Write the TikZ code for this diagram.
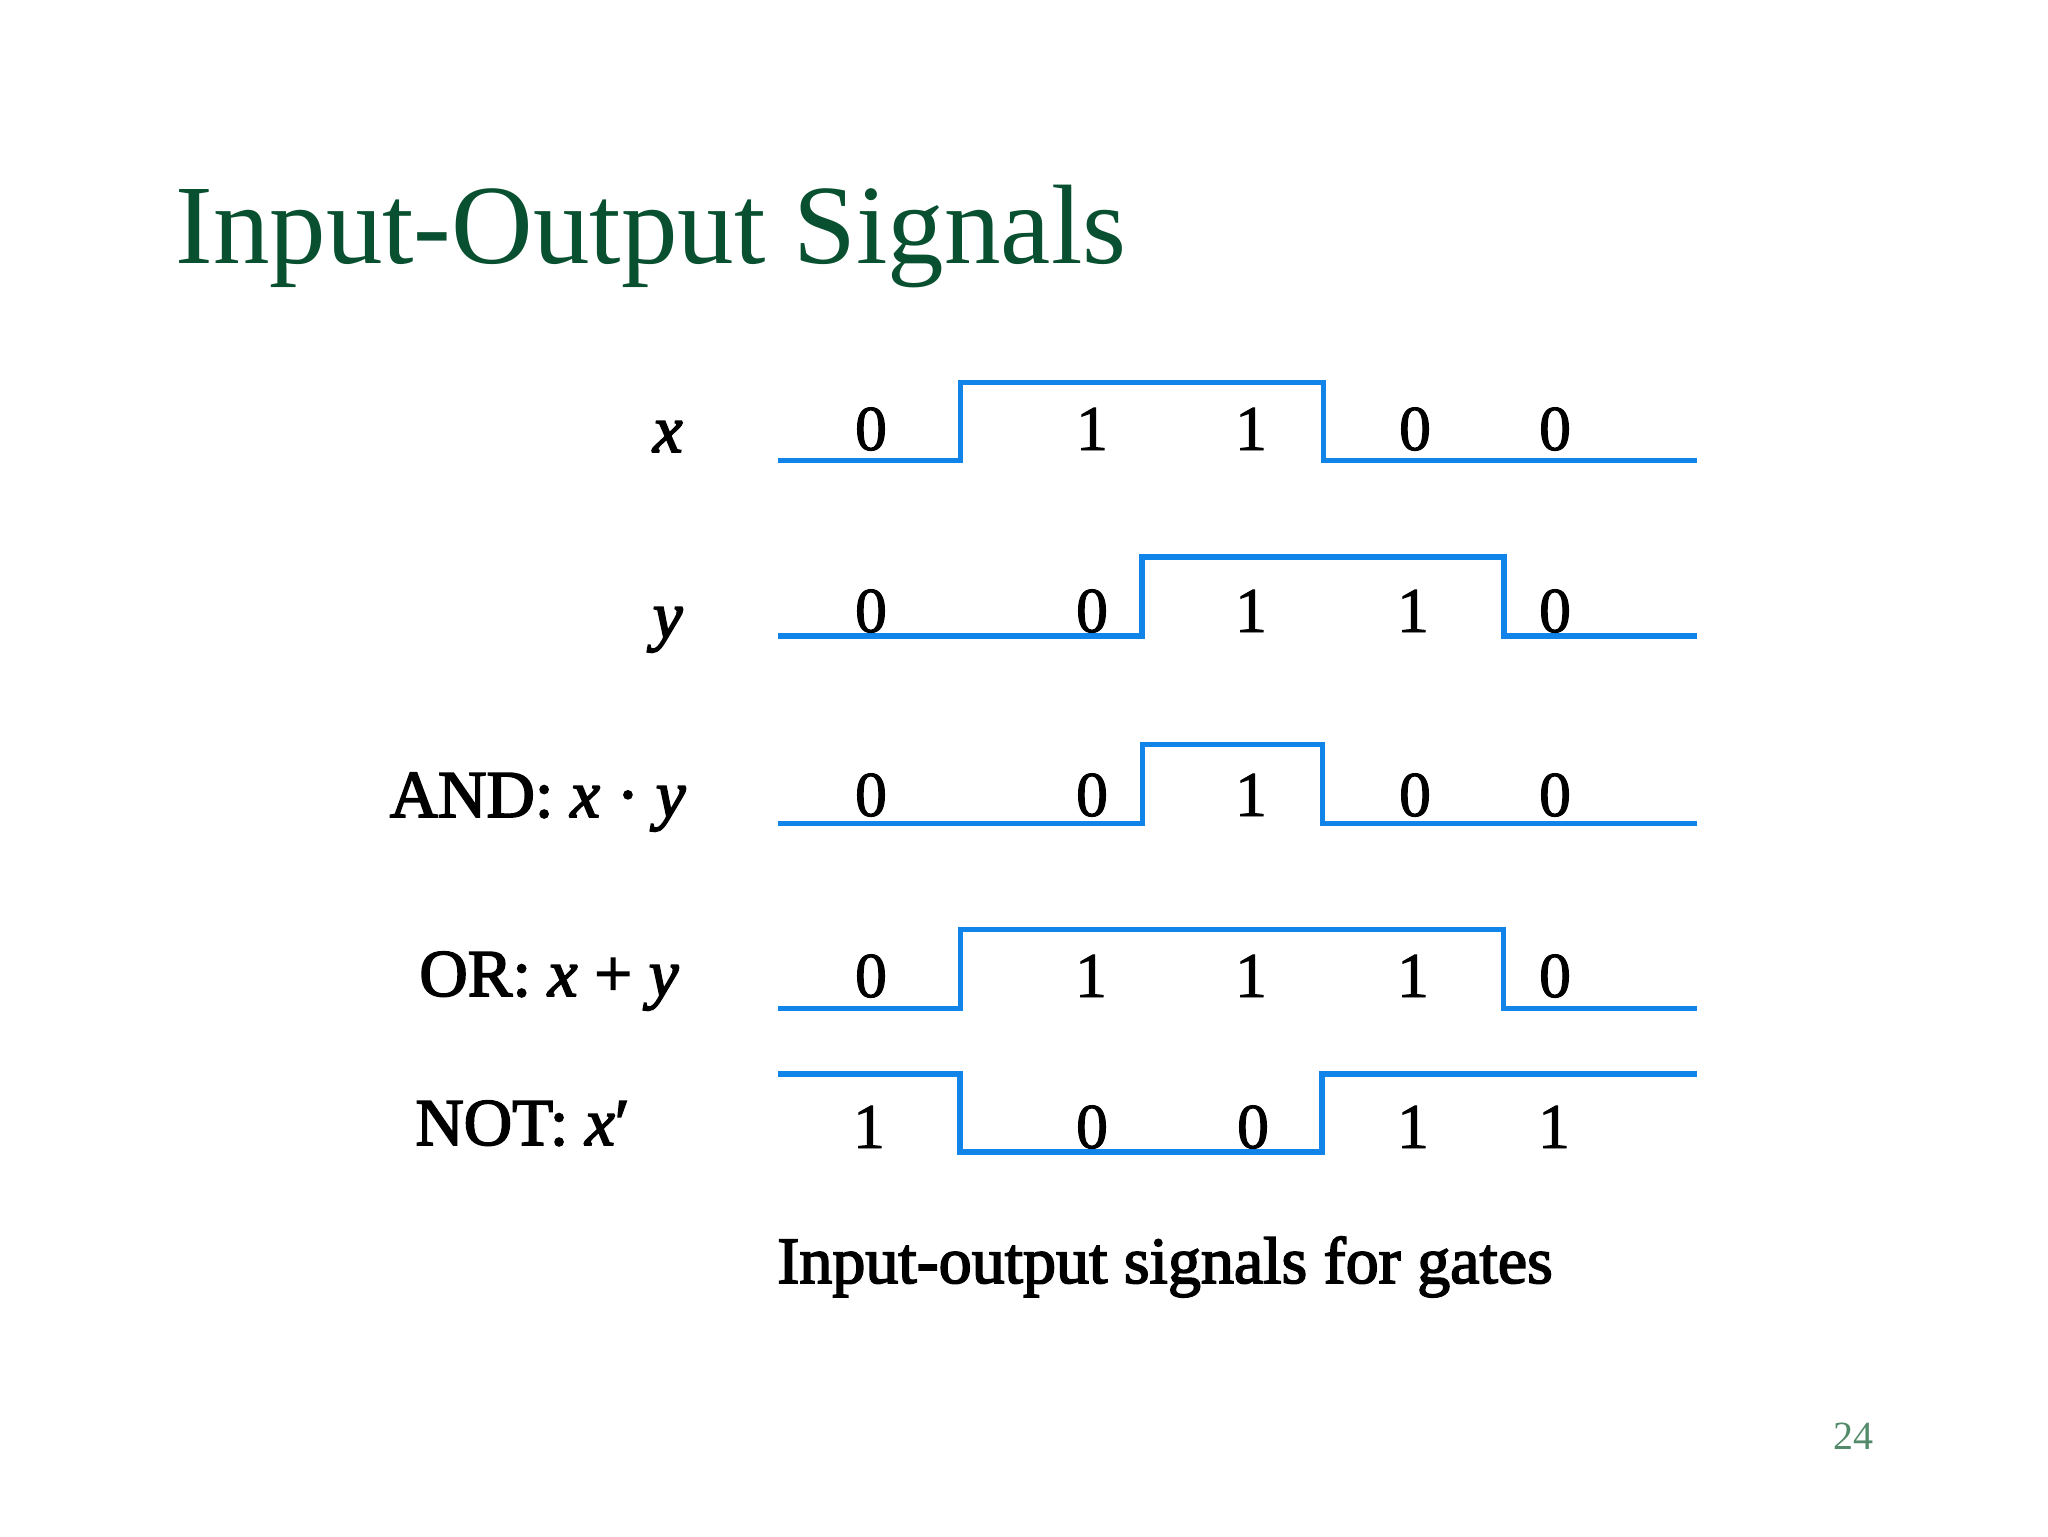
\documentclass[tikz,border=0pt]{standalone}
\usepackage{fontspec}
\setmainfont{Liberation Serif}
\newfontfamily\heavy[FakeBold=2.5]{Liberation Serif}
\newfontfamily\digitfont[FakeBold=1.5]{Liberation Serif}
\definecolor{titlegreen}{RGB}{8,80,48}
\definecolor{pagegreen}{RGB}{82,138,106}
\definecolor{sigblue}{RGB}{16,132,232}
\begin{document}
\begin{tikzpicture}[x=0.5pt,y=-0.5pt,
  wave/.style={draw=sigblue, line width=2.5pt, line join=miter},
  wavethick/.style={wave, line width=3pt},
  digit/.style={anchor=base, inner sep=0pt, font=\digitfont\fontsize{32}{36}\selectfont},
  siglabel/.style={anchor=base east, inner sep=0pt, font=\heavy\fontsize{33.5}{38}\selectfont},
  title/.style={anchor=base west, inner sep=0pt, text=titlegreen, font=\fontsize{56.5}{62}\selectfont},
  caption/.style={anchor=base west, inner sep=0pt, font=\heavy\fontsize{33}{38}\selectfont},
  pagenum/.style={anchor=base west, inner sep=0pt, text=pagegreen, font=\fontsize{20}{24}\selectfont}]
\useasboundingbox (0,0) rectangle (2048,1536);

% title
\node[title] (ttl) at (175,263) {Input-Output Signals};

% row labels
\node[siglabel] (lx) at (683,452) {\textit{x}};
\node[siglabel] (ly) at (683,638) {\textit{y}};
\node[siglabel] (land) at (686,817) {AND: \textit{x} · \textit{y}};
\node[siglabel] (lor) at (679,996) {OR: \textit{x} + \textit{y}};
\node[siglabel, anchor=base west] (lnot) at (415,1145) {NOT: \textit{x}′};

% waveforms
\draw[wave] (778,460) -- (960,460) -- (960,382) -- (1323,382) -- (1323,460) -- (1697,460);
\draw[wavethick] (778,636) -- (1142,636) -- (1142,557) -- (1504,557) -- (1504,636) -- (1697,636);
\draw[wave] (778,823) -- (1142,823) -- (1142,744) -- (1322,744) -- (1322,823) -- (1697,823);
\draw[wave] (778,1008) -- (960,1008) -- (960,929) -- (1503,929) -- (1503,1008) -- (1697,1008);
\draw[wavethick] (778,1074) -- (960,1074) -- (960,1152) -- (1322,1152) -- (1322,1074) -- (1697,1074);

% digits: x
\node[digit] (x1) at (871,450) {0};
\node[digit] (x2) at (1092,450) {1};
\node[digit] (x3) at (1251,450) {1};
\node[digit] (x4) at (1415,450) {0};
\node[digit] (x5) at (1555,450) {0};
% digits: y
\node[digit] (y1) at (871,632) {0};
\node[digit] (y2) at (1092,632) {0};
\node[digit] (y3) at (1251,632) {1};
\node[digit] (y4) at (1413,632) {1};
\node[digit] (y5) at (1555,632) {0};
% digits: AND
\node[digit] (a1) at (871,816) {0};
\node[digit] (a2) at (1092,816) {0};
\node[digit] (a3) at (1251,816) {1};
\node[digit] (a4) at (1415,816) {0};
\node[digit] (a5) at (1555,816) {0};
% digits: OR
\node[digit] (o1) at (871,997) {0};
\node[digit] (o2) at (1091,997) {1};
\node[digit] (o3) at (1251,997) {1};
\node[digit] (o4) at (1413,997) {1};
\node[digit] (o5) at (1555,997) {0};
% digits: NOT
\node[digit] (n1) at (869,1148) {1};
\node[digit] (n2) at (1092,1148) {0};
\node[digit] (n3) at (1253,1148) {0};
\node[digit] (n4) at (1413,1148) {1};
\node[digit] (n5) at (1554,1148) {1};

% caption
\node[caption] (cap) at (777,1283) {Input-output signals for gates};

% page number
\node[pagenum] (pg) at (1833,1449) {24};
\end{tikzpicture}
\end{document}
